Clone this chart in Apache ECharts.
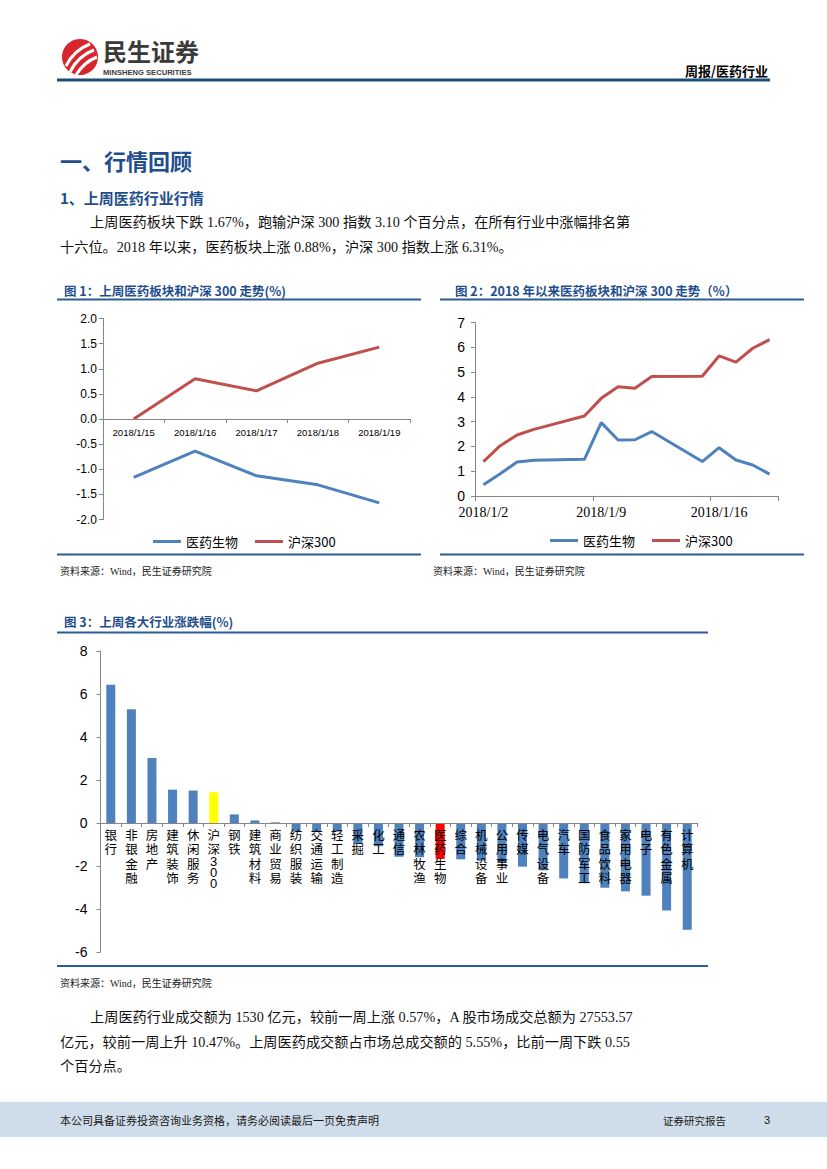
<!DOCTYPE html>
<html><head><meta charset="utf-8">
<script src="https://cdn.jsdelivr.net/npm/echarts@6/dist/echarts.min.js"></script>
<style>html,body{margin:0;padding:0;background:#fff}#c{width:827px;height:1169px}</style>
</head><body><div id="c"></div><script>
// ---------- DATA ----------
const fig1Dates = ['2018/1/15','2018/1/16','2018/1/17','2018/1/18','2018/1/19'];
const fig1Pharma = [-1.16,-0.64,-1.13,-1.31,-1.67];
const fig1HS300 = [0.00,0.80,0.56,1.11,1.43];

const fig2Dates = ['2018/1/2','2018/1/3','2018/1/4','2018/1/5','2018/1/6','2018/1/7','2018/1/8','2018/1/9','2018/1/10',
  '2018/1/11','2018/1/12','2018/1/13','2018/1/14','2018/1/15','2018/1/16','2018/1/17','2018/1/18','2018/1/19'];
const fig2Pharma = [0.45,0.90,1.37,1.44,null,null,1.48,2.96,2.26,2.27,2.60,null,null,1.39,1.95,1.45,1.25,0.88];
const fig2HS300 = [1.39,2.03,2.46,2.69,null,null,3.23,3.94,4.41,4.35,4.82,null,null,4.83,5.65,5.40,5.96,6.31];

const fig3Industries = ['银行','非银金融','房地产','建筑装饰','休闲服务','沪深300','钢铁','建筑材料','商业贸易','纺织服装',
  '交通运输','轻工制造','采掘','化工','通信','农林牧渔','医药生物','综合','机械设备','公用事业','传媒','电气设备','汽车',
  '国防军工','食品饮料','家用电器','电子','有色金属','计算机'];
const fig3Changes = [6.43,5.29,3.02,1.55,1.51,1.43,0.40,0.12,0.03,-0.39,-0.40,-0.40,-0.97,-1.08,-1.57,-1.59,-1.67,-1.69,
  -1.75,-1.82,-2.03,-2.20,-2.58,-2.80,-3.01,-3.18,-3.38,-4.07,-4.97];

const fig1YTicks = [-2,-1.5,-1,-0.5,0,0.5,1,1.5,2];
const fig2YTicks = [0,1,2,3,4,5,6,7];
const fig3YTicks = [-6,-4,-2,0,2,4,6,8];

// ---------- STYLE ----------
const BLUE = '#4F81BD', RED = '#C0504D', AX = '#868686';
const NAVY = '#1F4E8C', RULE = '#2E5C94';
const CJK = '"Noto Sans CJK SC"';
const SERIF = '"Liberation Serif", "Noto Sans CJK SC"';

function T(text, x, y, font, fill, align) {
  return {type:'text', silent:true, style:{text:text, x:x, y:y, font:font, fill:fill||'#000',
    textAlign:align||'left', textVerticalAlign:'middle', align:align||'left', verticalAlign:'middle'}};
}
function L(x1,y1,x2,y2,c,w){ return {type:'line', silent:true, shape:{x1:x1,y1:y1,x2:x2,y2:y2}, style:{stroke:c,lineWidth:w}}; }

const graphics = [
  // logo
  {type:'circle', shape:{cx:80, cy:57, r:18}, style:{fill:'#D7262E'}},
  {type:'bezierCurve', shape:{x1:66,y1:66,x2:90,y2:44,cpx1:74,cpy1:50}, style:{stroke:'#fff',lineWidth:3,fill:null}},
  {type:'bezierCurve', shape:{x1:70,y1:72,x2:94,y2:50,cpx1:78,cpy1:56}, style:{stroke:'#fff',lineWidth:3,fill:null}},
  {type:'bezierCurve', shape:{x1:76,y1:75,x2:97,y2:57,cpx1:84,cpy1:62}, style:{stroke:'#fff',lineWidth:3,fill:null}},
  T('民生证券', 103, 50, 'bold 24px ' + CJK, '#3a3a3a'),
  T('MINSHENG SECURITIES', 103, 72, 'bold 7.6px "Liberation Sans"', '#3a3a3a'),
  T('周报/医药行业', 768, 70, 'bold 13px ' + CJK, '#000', 'right'),
  L(57, 80, 770, 80, '#1F4E79', 3),

  T('一、行情回顾', 60, 160, 'bold 22px ' + CJK, NAVY),
  T('1、上周医药行业行情', 60, 197, 'bold 15px ' + CJK, NAVY),
  T('上周医药板块下跌 1.67%，跑输沪深 300 指数 3.10 个百分点，在所有行业中涨幅排名第', 90, 222, '14.2px ' + SERIF, '#111'),
  T('十六位。2018 年以来，医药板块上涨 0.88%，沪深 300 指数上涨 6.31%。', 60, 247, '14.2px ' + SERIF, '#111'),

  // figure 1 frame
  T('图 1：上周医药板块和沪深 300 走势(%)', 64, 290, 'bold 12.5px ' + CJK, NAVY),
  L(57, 299.5, 421, 299.5, RULE, 2),
  L(57, 554.5, 421, 554.5, RULE, 2),
  T('资料来源：Wind，民生证券研究院', 60, 571.5, '10px ' + SERIF, '#222'),

  // figure 2 frame
  T('图 2：2018 年以来医药板块和沪深 300 走势（%）', 455, 290, 'bold 12.5px ' + CJK, NAVY),
  L(440, 299.5, 804, 299.5, RULE, 2),
  L(440, 554.5, 804, 554.5, RULE, 2),
  T('资料来源：Wind，民生证券研究院', 433, 571.5, '10px ' + SERIF, '#222'),

  // figure 3 frame
  T('图 3：上周各大行业涨跌幅(%)', 64, 621, 'bold 12.5px ' + CJK, NAVY),
  L(57, 632.5, 708, 632.5, RULE, 2),
  L(57, 966, 708, 966, RULE, 2),
  T('资料来源：Wind，民生证券研究院', 60, 983, '10px ' + SERIF, '#222'),

  T('上周医药行业成交额为 1530 亿元，较前一周上涨 0.57%，A 股市场成交总额为 27553.57', 90, 1017, '14.2px ' + SERIF, '#111'),
  T('亿元，较前一周上升 10.47%。上周医药成交额占市场总成交额的 5.55%，比前一周下跌 0.55', 60, 1042, '14.2px ' + SERIF, '#111'),
  T('个百分点。', 60, 1066, '14.2px ' + SERIF, '#111'),

  // footer
  {type:'rect', silent:true, shape:{x:0, y:1102, width:827, height:35}, style:{fill:'#CFDCE9'}},
  T('本公司具备证券投资咨询业务资格，请务必阅读最后一页免责声明', 60, 1120, '11px ' + CJK, '#1a1a1a'),
  T('证券研究报告', 663, 1120, '10.5px ' + CJK, '#1a1a1a'),
  T('3', 764, 1120, '11px "Liberation Sans"', '#1a1a1a')
];

function yAxisCfg(grid, ticks, fmt, fontSize, margin, family){
  return {gridIndex:grid, type:'value', min:ticks[0], max:ticks[ticks.length-1], interval:ticks[1]-ticks[0],
    axisLine:{show:true, lineStyle:{color:AX}}, axisTick:{show:true, length:4, lineStyle:{color:AX}},
    splitLine:{show:false},
    axisLabel:{formatter:fmt, fontSize:fontSize, color:'#000', margin:margin, fontFamily:family}};
}

// grid geometry (pixels)
const G1 = {left:103, top:318.5, width:307, height:201};
const G2 = {left:475, top:322.5, width:303, height:173.5};
const G3 = {left:100.5, top:651, width:597, height:301};
// move category axis up to the zero line of its value axis
function zeroOffset(g, ticks){
  const lo = ticks[0], hi = ticks[ticks.length-1];
  return -(g.height * (0 - lo) / (hi - lo));
}
// stack label characters vertically (digits packed tighter)
function stackLabel(n){
  return n.split('').map(function(ch){ return /[0-9]/.test(ch) ? '{d|' + ch + '}' : '{c|' + ch + '}'; }).join('\n');
}

const option = {
  animation:false,
  backgroundColor:'#fff',
  grid:[G1, G2, G3],
  xAxis:[
    {gridIndex:0, type:'category', data:fig1Dates, boundaryGap:true, position:'bottom',
     offset:zeroOffset(G1, fig1YTicks), z:5,
     axisLine:{onZero:false, lineStyle:{color:AX}}, axisTick:{show:true, length:4, lineStyle:{color:AX}},
     axisLabel:{fontSize:9.5, color:'#000', margin:8, fontFamily:'"Liberation Sans"', interval:0}},
    {gridIndex:1, type:'category', data:fig2Dates, boundaryGap:true,
     axisLine:{lineStyle:{color:AX}},
     axisTick:{show:true, length:5, interval:function(i){return i%7===0;}, lineStyle:{color:AX}},
     axisLabel:{interval:function(i){return i%7===0;}, fontSize:14, color:'#000', margin:9, fontFamily:'"Liberation Serif"'}},
    {gridIndex:2, type:'category', data:fig3Industries, boundaryGap:true, position:'bottom',
     offset:zeroOffset(G3, fig3YTicks), z:5,
     axisLine:{onZero:false, lineStyle:{color:AX}}, axisTick:{show:true, length:4, lineStyle:{color:AX}},
     axisLabel:{interval:0, color:'#000', margin:4, formatter:stackLabel,
       rich:{c:{fontSize:12.5, lineHeight:14.5, fontFamily:CJK, color:'#000'},
             d:{fontSize:13, lineHeight:11, fontFamily:'"Liberation Sans"', color:'#000'}}}}
  ],
  yAxis:[
    yAxisCfg(0, fig1YTicks, function(v){return v.toFixed(1);}, 12, 6, '"Liberation Sans"'),
    yAxisCfg(1, fig2YTicks, function(v){return String(v);}, 14, 10, '"Liberation Sans"'),
    yAxisCfg(2, fig3YTicks, function(v){return String(v);}, 14, 13, '"Liberation Sans Narrow", "Liberation Sans"')
  ],
  legend:[
    {data:['医药生物','沪深300'], left:148, top:530, icon:'rect', itemWidth:28, itemHeight:3, itemGap:17,
     textStyle:{fontSize:13, color:'#000', fontFamily:CJK}, selectedMode:false},
    {data:['医药生物','沪深300'], left:545, top:529, icon:'rect', itemWidth:28, itemHeight:3, itemGap:17,
     textStyle:{fontSize:13, color:'#000', fontFamily:CJK}, selectedMode:false}
  ],
  series:[
    {name:'医药生物', type:'line', xAxisIndex:0, yAxisIndex:0, data:fig1Pharma, showSymbol:false,
     lineStyle:{color:BLUE, width:3}, itemStyle:{color:BLUE}},
    {name:'沪深300', type:'line', xAxisIndex:0, yAxisIndex:0, data:fig1HS300, showSymbol:false,
     lineStyle:{color:RED, width:3}, itemStyle:{color:RED}},
    {name:'医药生物', type:'line', xAxisIndex:1, yAxisIndex:1, data:fig2Pharma, showSymbol:false, connectNulls:true,
     lineStyle:{color:BLUE, width:3}, itemStyle:{color:BLUE}},
    {name:'沪深300', type:'line', xAxisIndex:1, yAxisIndex:1, data:fig2HS300, showSymbol:false, connectNulls:true,
     lineStyle:{color:RED, width:3}, itemStyle:{color:RED}},
    {name:'涨跌幅', type:'bar', xAxisIndex:2, yAxisIndex:2, data:fig3Changes, barWidth:9, z:2,
     itemStyle:{color:function(p){
       if (p.name === '沪深300') return '#FFFF00';
       if (p.name === '医药生物') return '#FF0000';
       return BLUE; }}}
  ],
  graphic:graphics
};

const chart = echarts.init(document.getElementById('c'), null, {renderer:'svg'});
chart.setOption(option);
</script></body></html>
